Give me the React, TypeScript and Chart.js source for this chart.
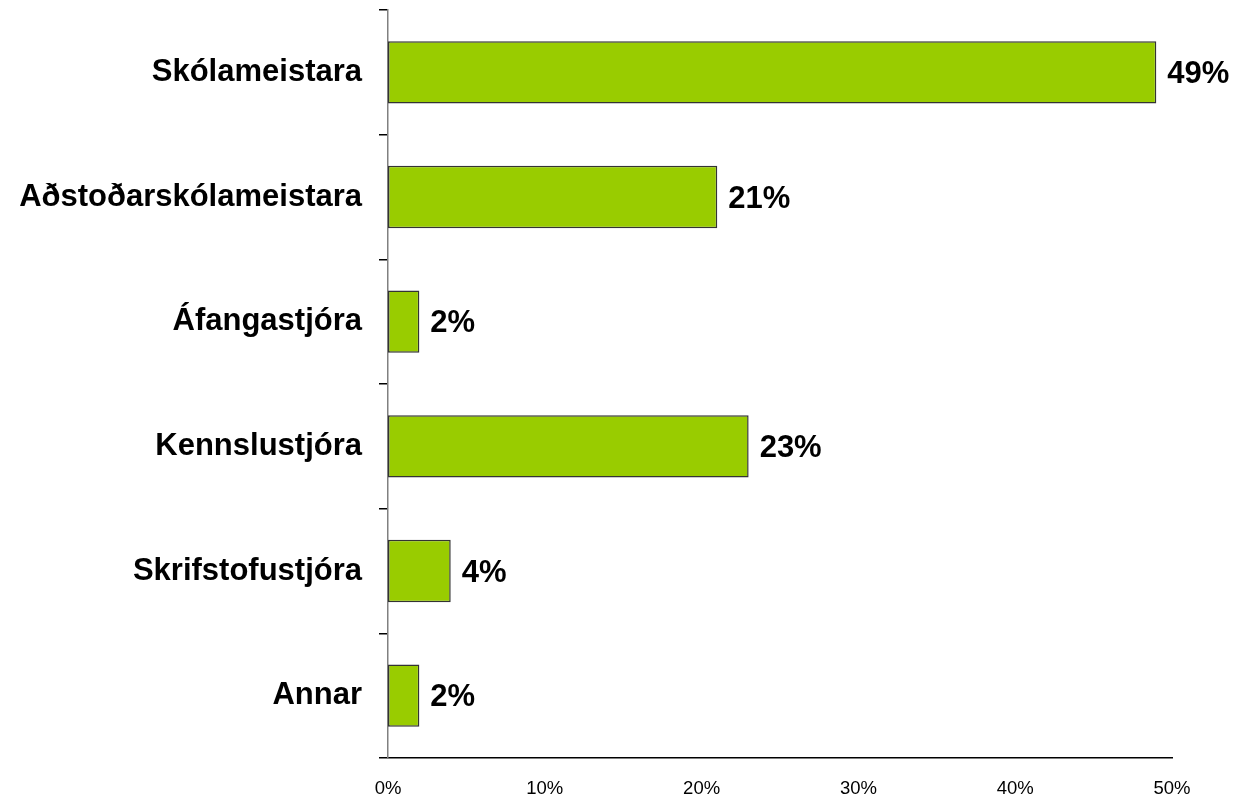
import React, { useEffect, useRef } from "react";
import { Chart, registerables } from "chart.js";

Chart.register(...registerables);

const categories = [
  "Skólameistara",
  "Aðstoðarskólameistara",
  "Áfangastjóra",
  "Kennslustjóra",
  "Skrifstofustjóra",
  "Annar",
];
const values = [49, 21, 2, 23, 4, 2];
const xTicks = [0, 10, 20, 30, 40, 50];

const FONT = "'Liberation Sans', Arial, Helvetica, sans-serif";

const dataLabelPlugin = {
  id: "dataLabels",
  afterDatasetsDraw(chart: any) {
    const ctx = chart.ctx;
    const meta = chart.getDatasetMeta(0);
    ctx.save();
    ctx.font = `bold 31px ${FONT}`;
    ctx.fillStyle = "#000";
    ctx.textAlign = "left";
    ctx.textBaseline = "middle";
    meta.data.forEach((bar: any, i: number) => {
      ctx.fillText(values[i] + "%", bar.x + 11, bar.y + 2);
    });
    ctx.restore();
  },
};

export default function App() {
  const ref = useRef<HTMLCanvasElement | null>(null);
  useEffect(() => {
    if (!ref.current) return;
    const chart = new Chart(ref.current, {
      type: "bar",
      data: {
        labels: categories,
        datasets: [
          {
            data: values,
            backgroundColor: "#99CC00",
            borderColor: "#333333",
            borderWidth: 1.5,
            borderSkipped: false,
            categoryPercentage: 0.5,
            barPercentage: 1,
          },
        ],
      },
      options: {
        indexAxis: "y",
        responsive: false,
        animation: false,
        layout: { padding: { top: 10, right: 65, left: 0, bottom: 0 } },
        plugins: {
          legend: { display: false },
          tooltip: { enabled: false },
        },
        scales: {
          x: {
            min: 0,
            max: 50,
            afterBuildTicks: (scale: any) => {
              scale.ticks = xTicks.map((v) => ({ value: v }));
            },
            afterFit: (scale: any) => {
              scale.height = 44;
            },
            grid: { display: false, drawTicks: false },
            border: { display: true, color: "#000", width: 1.5 },
            ticks: {
              padding: 20,
              color: "#000",
              font: { family: FONT, size: 18.5 },
              callback: (v: any) => v + "%",
            },
          },
          y: {
            afterFit: (scale: any) => {
              scale.width = 388;
              scale.paddingTop = 0;
              scale.paddingBottom = 0;
            },
            grid: {
              offset: true,
              drawOnChartArea: false,
              drawTicks: true,
              tickLength: 9,
              color: "#000",
              lineWidth: 1.5,
            },
            border: { display: true, color: "#808080", width: 1.5 },
            ticks: {
              padding: 17,
              color: "#000",
              font: { family: FONT, size: 31, weight: "bold" },
            },
          },
        },
      },
      plugins: [dataLabelPlugin],
    } as any);
    return () => chart.destroy();
  }, []);
  return (
    <div style={{ position: "absolute", left: 0, top: 0, width: 1237, height: 802, background: "#fff" }}>
      <canvas ref={ref} width={1237} height={802} />
    </div>
  );
}
